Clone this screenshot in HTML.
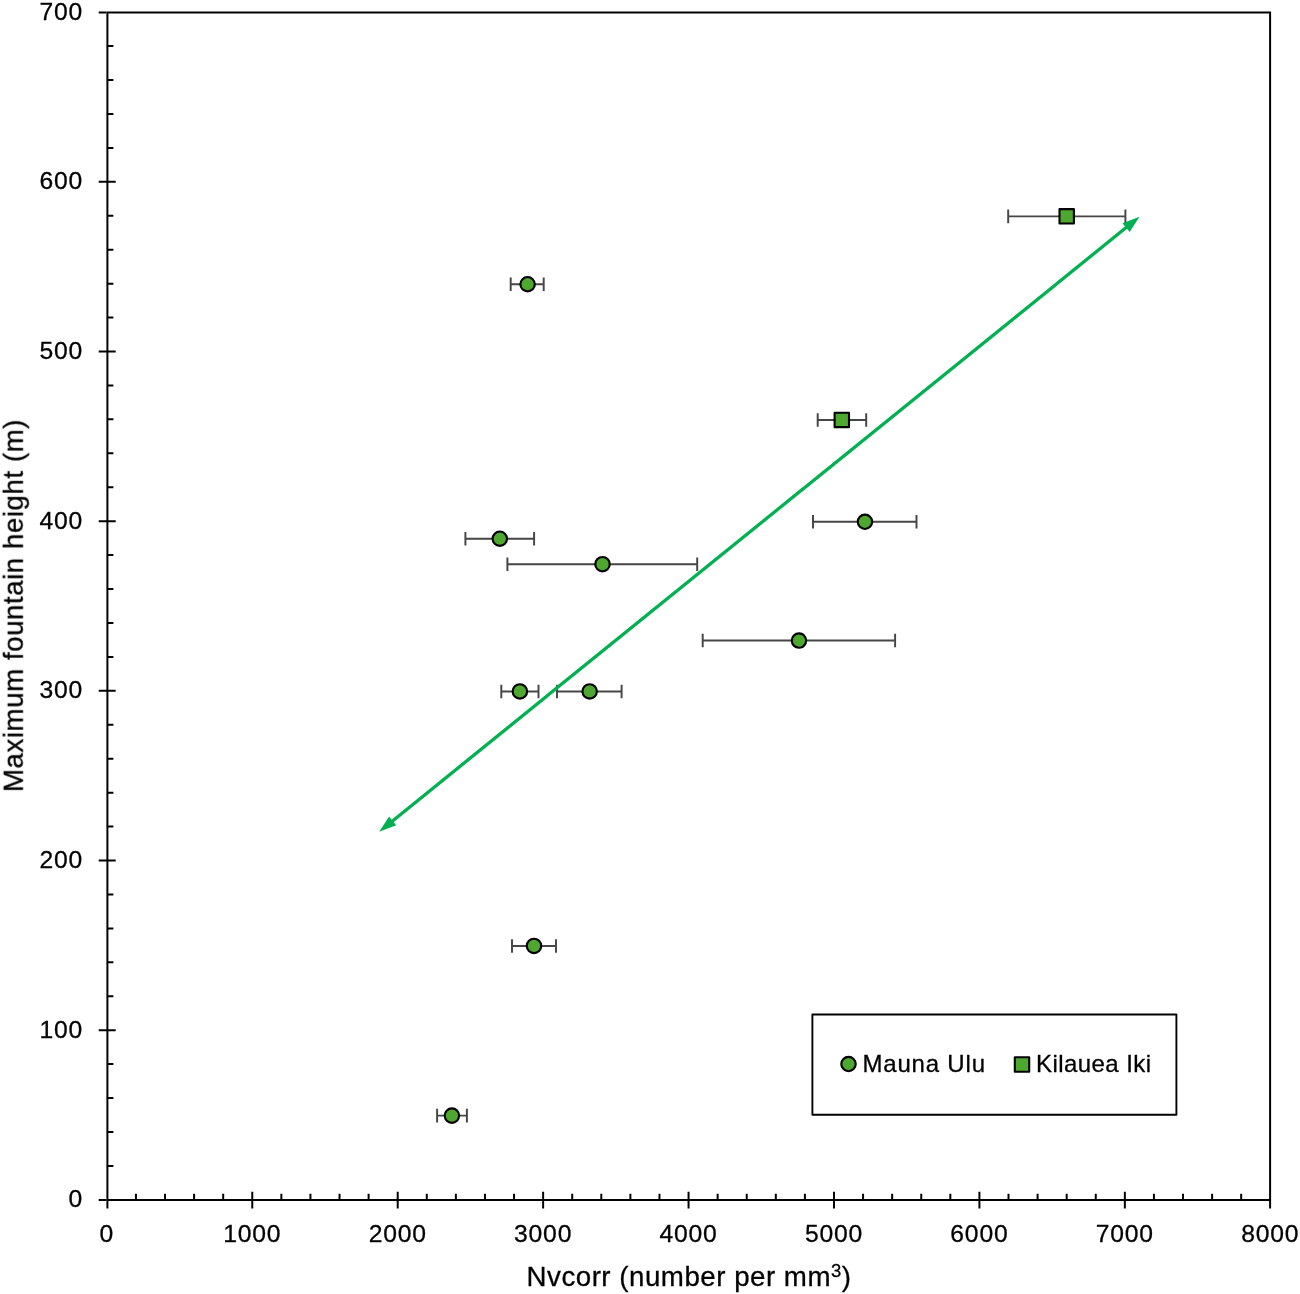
<!DOCTYPE html><html><head><meta charset="utf-8"><title>Chart</title><style>html,body{margin:0;padding:0;background:#fff;width:1300px;height:1294px;overflow:hidden}svg{display:block}text{font-family:"Liberation Sans",sans-serif;fill:#000;stroke:#000;stroke-width:0.3px}</style></head><body><svg width="1300" height="1294" viewBox="0 0 1300 1294"><rect x="0" y="0" width="1300" height="1294" fill="#fff"/><g opacity="0.999"><path d="M98.70 1200.00H106.40M107.40 1165.92H113.40M107.40 1131.98H113.40M107.40 1098.05H113.40M107.40 1064.11H113.40M98.70 1030.18H115.70M107.40 996.25H113.40M107.40 962.31H113.40M107.40 928.38H113.40M107.40 894.44H113.40M98.70 860.51H115.70M107.40 826.58H113.40M107.40 792.64H113.40M107.40 758.71H113.40M107.40 724.77H113.40M98.70 690.84H115.70M107.40 656.91H113.40M107.40 622.97H113.40M107.40 589.04H113.40M107.40 555.10H113.40M98.70 521.17H115.70M107.40 487.24H113.40M107.40 453.30H113.40M107.40 419.37H113.40M107.40 385.43H113.40M98.70 351.50H115.70M107.40 317.57H113.40M107.40 283.63H113.40M107.40 249.70H113.40M107.40 215.76H113.40M98.70 181.83H115.70M107.40 147.90H113.40M107.40 113.96H113.40M107.40 80.03H113.40M107.40 46.09H113.40M98.70 12.40H106.40M107.40 1201.00V1208.50M135.93 1200.00V1193.80M165.01 1200.00V1193.80M194.10 1200.00V1193.80M223.18 1200.00V1193.80M252.27 1191.80V1208.50M281.36 1200.00V1193.80M310.44 1200.00V1193.80M339.53 1200.00V1193.80M368.61 1200.00V1193.80M397.70 1191.80V1208.50M426.79 1200.00V1193.80M455.87 1200.00V1193.80M484.96 1200.00V1193.80M514.04 1200.00V1193.80M543.13 1191.80V1208.50M572.22 1200.00V1193.80M601.30 1200.00V1193.80M630.39 1200.00V1193.80M659.47 1200.00V1193.80M688.56 1191.80V1208.50M717.65 1200.00V1193.80M746.73 1200.00V1193.80M775.82 1200.00V1193.80M804.90 1200.00V1193.80M833.99 1191.80V1208.50M863.08 1200.00V1193.80M892.16 1200.00V1193.80M921.25 1200.00V1193.80M950.33 1200.00V1193.80M979.42 1191.80V1208.50M1008.51 1200.00V1193.80M1037.59 1200.00V1193.80M1066.68 1200.00V1193.80M1095.76 1200.00V1193.80M1124.85 1191.80V1208.50M1153.94 1200.00V1193.80M1183.02 1200.00V1193.80M1212.11 1200.00V1193.80M1241.19 1200.00V1193.80M1270.10 1201.00V1208.50" stroke="#000" stroke-width="2" fill="none"/><path d="M107.40 1200.00H1270.10V12.40H107.40Z" stroke="#000" stroke-width="2" fill="none" stroke-linejoin="miter"/><text x="83" y="1207.45" text-anchor="end" font-size="24.7" letter-spacing="0.8">0</text><text x="83" y="1037.78" text-anchor="end" font-size="24.7" letter-spacing="0.8">100</text><text x="83" y="868.11" text-anchor="end" font-size="24.7" letter-spacing="0.8">200</text><text x="83" y="698.44" text-anchor="end" font-size="24.7" letter-spacing="0.8">300</text><text x="83" y="528.77" text-anchor="end" font-size="24.7" letter-spacing="0.8">400</text><text x="83" y="359.10" text-anchor="end" font-size="24.7" letter-spacing="0.8">500</text><text x="83" y="189.43" text-anchor="end" font-size="24.7" letter-spacing="0.8">600</text><text x="83" y="19.76" text-anchor="end" font-size="24.7" letter-spacing="0.8">700</text><text x="106.84" y="1242.3" text-anchor="middle" font-size="24.7" letter-spacing="0.8">0</text><text x="252.27" y="1242.3" text-anchor="middle" font-size="24.7" letter-spacing="0.8">1000</text><text x="397.70" y="1242.3" text-anchor="middle" font-size="24.7" letter-spacing="0.8">2000</text><text x="543.13" y="1242.3" text-anchor="middle" font-size="24.7" letter-spacing="0.8">3000</text><text x="688.56" y="1242.3" text-anchor="middle" font-size="24.7" letter-spacing="0.8">4000</text><text x="833.99" y="1242.3" text-anchor="middle" font-size="24.7" letter-spacing="0.8">5000</text><text x="979.42" y="1242.3" text-anchor="middle" font-size="24.7" letter-spacing="0.8">6000</text><text x="1124.85" y="1242.3" text-anchor="middle" font-size="24.7" letter-spacing="0.8">7000</text><text x="1270.28" y="1242.3" text-anchor="middle" font-size="24.7" letter-spacing="0.8">8000</text><text x="688.8" y="1285.8" text-anchor="middle" font-size="27.7" textLength="324.5" lengthAdjust="spacing">Nvcorr (number per mm<tspan font-size="18.5" dy="-8.6">3</tspan><tspan dy="8.6">)</tspan></text><text transform="translate(22.8 605.8) rotate(-90)" x="0" y="0" text-anchor="middle" font-size="27.7" textLength="372.5" lengthAdjust="spacing">Maximum fountain height (m)</text><path d="M510.70 284.23H543.70M510.70 277.43V291.03M543.70 277.43V291.03M813.00 521.77H916.50M813.00 514.97V528.57M916.50 514.97V528.57M465.40 538.74H534.10M465.40 531.94V545.54M534.10 531.94V545.54M507.40 564.19H697.20M507.40 557.39V570.99M697.20 557.39V570.99M702.70 640.54H895.10M702.70 633.74V647.34M895.10 633.74V647.34M501.30 691.44H538.50M501.30 684.64V698.24M538.50 684.64V698.24M557.00 691.44H621.60M557.00 684.64V698.24M621.60 684.64V698.24M512.00 945.94H556.00M512.00 939.14V952.74M556.00 939.14V952.74M437.10 1115.61H466.90M437.10 1108.81V1122.41M466.90 1108.81V1122.41M1008.20 216.36H1125.40M1008.20 209.56V223.16M1125.40 209.56V223.16M817.70 419.97H866.20M817.70 413.17V426.77M866.20 413.17V426.77" stroke="#464646" stroke-width="1.95" fill="none"/><circle cx="527.60" cy="284.23" r="7.2" fill="#4ea72e" stroke="#000" stroke-width="2.15"/><circle cx="864.95" cy="521.77" r="7.2" fill="#4ea72e" stroke="#000" stroke-width="2.15"/><circle cx="499.80" cy="538.74" r="7.2" fill="#4ea72e" stroke="#000" stroke-width="2.15"/><circle cx="602.50" cy="564.19" r="7.2" fill="#4ea72e" stroke="#000" stroke-width="2.15"/><circle cx="798.95" cy="640.54" r="7.2" fill="#4ea72e" stroke="#000" stroke-width="2.15"/><circle cx="519.90" cy="691.44" r="7.2" fill="#4ea72e" stroke="#000" stroke-width="2.15"/><circle cx="589.66" cy="691.44" r="7.2" fill="#4ea72e" stroke="#000" stroke-width="2.15"/><circle cx="534.00" cy="945.94" r="7.2" fill="#4ea72e" stroke="#000" stroke-width="2.15"/><circle cx="451.90" cy="1115.61" r="7.2" fill="#4ea72e" stroke="#000" stroke-width="2.15"/><rect x="1059.50" y="209.16" width="14.4" height="14.4" fill="#4ea72e" stroke="#000" stroke-width="2.1" stroke-linejoin="round"/><rect x="834.60" y="412.77" width="14.4" height="14.4" fill="#4ea72e" stroke="#000" stroke-width="2.1" stroke-linejoin="round"/><path d="M391.31 821.91L1127.39 226.59" stroke="#00b050" stroke-width="3.3" fill="none"/><path d="M1139.50 216.80L1129.63 232.11L1122.46 223.25ZM379.20 831.70L396.24 825.25L389.07 816.39Z" fill="#00b050"/><rect x="812.4" y="1014.5" width="364" height="100.2" fill="none" stroke="#000" stroke-width="1.9" stroke-linejoin="round"/><circle cx="848.5" cy="1064" r="7.2" fill="#4ea72e" stroke="#000" stroke-width="2.15"/><rect x="1014.8" y="1057.3" width="14.4" height="14.4" fill="#4ea72e" stroke="#000" stroke-width="2.1" stroke-linejoin="round"/><text x="862.5" y="1071.8" font-size="24" textLength="122.5" lengthAdjust="spacing">Mauna Ulu</text><text x="1036" y="1071.8" font-size="24" textLength="115" lengthAdjust="spacing">Kilauea Iki</text></g></svg></body></html>
